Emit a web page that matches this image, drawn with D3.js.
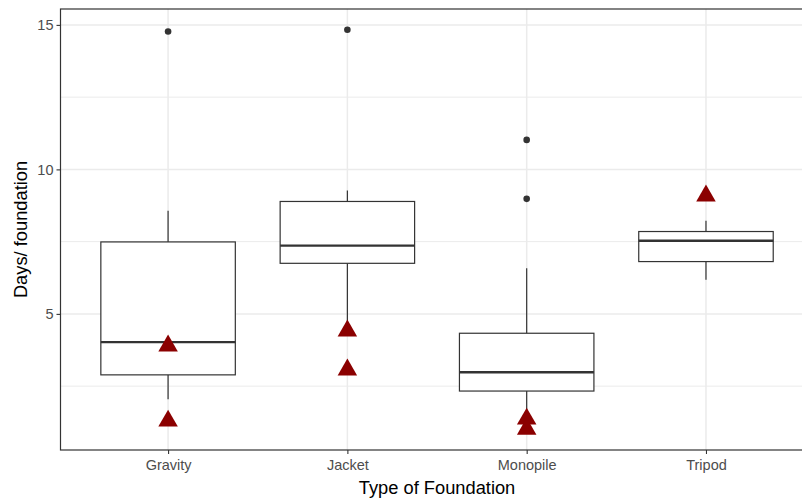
<!DOCTYPE html>
<html>
<head>
<meta charset="utf-8">
<script src="https://cdn.jsdelivr.net/npm/d3@7"></script>
<style>
  body { margin: 0; background: #fff; }
  text { font-family: "Liberation Sans", Arial, sans-serif; }
</style>
</head>
<body>
<svg id="svg1" width="802" height="499"></svg>
<script>
// box stats
var categories = ["Gravity", "Jacket", "Monopile", "Tripod"];
var whiskerLow  = [2.05, 4.73, 1.6, 6.18];
var boxLow      = [2.89, 6.75, 2.33, 6.81];
var medians     = [4.02, 7.36, 2.98, 7.53];
var boxHigh     = [7.49, 8.89, 4.33, 7.85];
var whiskerHigh = [8.57, 9.27, 6.58, 8.22];

// outliers (black dots)
var outlierCat = ["Gravity", "Jacket", "Monopile", "Monopile"];
var outlierVal = [14.77, 14.83, 11.02, 8.98];

// red triangles
var triCat = ["Gravity", "Gravity", "Jacket", "Jacket", "Monopile", "Monopile", "Tripod"];
var triVal = [3.93, 1.33, 4.45, 3.1, 1.4, 1.05, 9.12];

var yTicks = [5, 10, 15];
var yMinor = [2.5, 7.5, 12.5];

// panel edges (note: "top" is taken by window.top)
var pLeft = 60.5, pTop = 9, pBottom = 450;
var bandStep = 179.3;
var pRight = pLeft + bandStep * 4.2;   // panel runs past the window edge

var svg = d3.select("#svg1");

var x = d3.scalePoint()
    .domain(categories)
    .range([pLeft + 0.6 * bandStep, pLeft + 3.6 * bandStep]);

var y = d3.scaleLinear()
    .domain([0.29, 15.55])
    .range([pBottom, pTop]);

var boxW = 0.75 * bandStep;

// grid
svg.selectAll(".minor").data(yMinor).enter().append("line")
    .attr("x1", pLeft).attr("x2", pRight)
    .attr("y1", function(d) { return y(d); })
    .attr("y2", function(d) { return y(d); })
    .attr("stroke", "#ebebeb").attr("stroke-width", 1);

svg.selectAll(".major").data(yTicks).enter().append("line")
    .attr("x1", pLeft).attr("x2", pRight)
    .attr("y1", function(d) { return y(d); })
    .attr("y2", function(d) { return y(d); })
    .attr("stroke", "#ebebeb").attr("stroke-width", 1.5);

svg.selectAll(".vgrid").data(categories).enter().append("line")
    .attr("x1", function(d) { return x(d); })
    .attr("x2", function(d) { return x(d); })
    .attr("y1", pTop).attr("y2", pBottom)
    .attr("stroke", "#ebebeb").attr("stroke-width", 1.5);

// boxes
var g = svg.selectAll(".box").data(categories).enter().append("g");

g.append("line")
    .attr("x1", function(d) { return x(d); })
    .attr("x2", function(d) { return x(d); })
    .attr("y1", function(d, i) { return y(whiskerHigh[i]); })
    .attr("y2", function(d, i) { return y(boxHigh[i]); })
    .attr("stroke", "#333").attr("stroke-width", 1.2);

g.append("line")
    .attr("x1", function(d) { return x(d); })
    .attr("x2", function(d) { return x(d); })
    .attr("y1", function(d, i) { return y(boxLow[i]); })
    .attr("y2", function(d, i) { return y(whiskerLow[i]); })
    .attr("stroke", "#333").attr("stroke-width", 1.2);

g.append("rect")
    .attr("x", function(d) { return x(d) - boxW / 2; })
    .attr("width", boxW)
    .attr("y", function(d, i) { return y(boxHigh[i]); })
    .attr("height", function(d, i) { return y(boxLow[i]) - y(boxHigh[i]); })
    .attr("fill", "#fff").attr("stroke", "#333").attr("stroke-width", 1.2);

g.append("line")
    .attr("x1", function(d) { return x(d) - boxW / 2; })
    .attr("x2", function(d) { return x(d) + boxW / 2; })
    .attr("y1", function(d, i) { return y(medians[i]); })
    .attr("y2", function(d, i) { return y(medians[i]); })
    .attr("stroke", "#333").attr("stroke-width", 2.3);

// outliers
svg.selectAll(".out").data(outlierVal).enter().append("circle")
    .attr("cx", function(d, i) { return x(outlierCat[i]); })
    .attr("cy", function(d) { return y(d); })
    .attr("r", 3.3)
    .attr("fill", "#333");

// triangles
var tri = d3.symbol().type(d3.symbolTriangle).size(165);
svg.selectAll(".tri").data(triVal).enter().append("path")
    .attr("d", tri)
    .attr("transform", function(d, i) {
        return "translate(" + x(triCat[i]) + "," + (y(d) + 1) + ")";
    })
    .attr("fill", "#8b0000");

// panel border
svg.append("rect")
    .attr("x", pLeft).attr("y", pTop)
    .attr("width", pRight - pLeft).attr("height", pBottom - pTop)
    .attr("fill", "none").attr("stroke", "#333").attr("stroke-width", 1.2);

// axes
var yAxis = d3.axisLeft(y).tickValues(yTicks).tickSize(4).tickPadding(3);
var ya = svg.append("g").attr("transform", "translate(" + pLeft + ",0)").call(yAxis);
var xAxis = d3.axisBottom(x).tickSize(4).tickPadding(6);
var xa = svg.append("g").attr("transform", "translate(0," + pBottom + ")").call(xAxis);

[ya, xa].forEach(function(a) {
    a.select(".domain").remove();
    a.selectAll(".tick line").attr("stroke", "#333").attr("stroke-width", 1.1);
    a.selectAll(".tick text")
        .attr("fill", "#4d4d4d")
        .style("font-size", "14.5px")
        .style("font-family", "'Liberation Sans', Arial, sans-serif");
});

// titles
svg.append("text")
    .attr("x", (pLeft + pRight) / 2)
    .attr("y", 494)
    .attr("text-anchor", "middle")
    .attr("fill", "#000")
    .style("font-size", "18.3px")
    .text("Type of Foundation");

svg.append("text")
    .attr("transform", "translate(27," + ((pTop + pBottom) / 2) + ") rotate(-90)")
    .attr("text-anchor", "middle")
    .attr("fill", "#000")
    .style("font-size", "18.3px")
    .text("Days/ foundation");
</script>
</body>
</html>
